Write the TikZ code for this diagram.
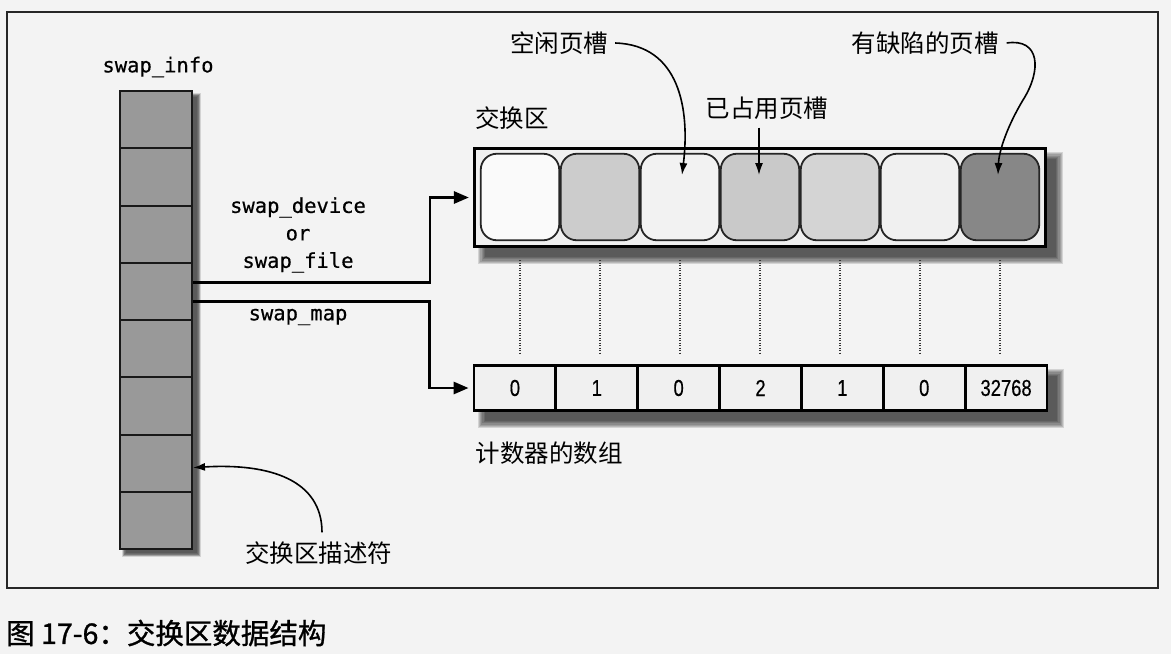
\documentclass[tikz,border=0pt]{standalone}
\usepackage{fontspec}
\setmonofont{DejaVu Sans Mono}[FakeBold=0.5]
\newfontfamily\cjk{Noto Sans CJK SC}
\newfontfamily\capfont{Noto Sans CJK SC}[FakeBold=1]
\newfontfamily\numfont{Liberation Sans}[FakeStretch=0.8,FakeBold=0.4]
\usetikzlibrary{arrows.meta,calc}
\definecolor{paper}{HTML}{F3F3F3}
\pgfdeclarelayer{paperlayer}
\pgfdeclarelayer{shadelayer}
\pgfsetlayers{paperlayer,shadelayer,main}
\newcommand\softshadow[3]{%
  \foreach \ii in {0,...,6}{%
    \fill[black, fill opacity=0.13] ($(#1)+(\ii*#3,\ii*#3)$) rectangle ($(#2)-(\ii*#3,\ii*#3)$);}}
\begin{document}
\begin{tikzpicture}[x=1pt,y=-1pt,
  sicell/.style={draw=black!90, line width=2pt, fill=black!40, minimum width=72pt, minimum height=57.25pt, inner sep=0pt},
  slotbox/.style={draw=black!85, line width=1.8pt, rounded corners=16pt, minimum width=78.5pt, minimum height=86.5pt, inner sep=0pt},
  cntcell/.style={draw=black, line width=2.8pt, fill=black!6, minimum width=81.86pt, minimum height=45.5pt, inner sep=0pt, font=\numfont\fontsize{23}{26}\selectfont},
  mono/.style={font=\ttfamily\fontsize{20.5}{27.5}\selectfont, inner sep=0pt, align=center},
  cjklabel/.style={font=\cjk\fontsize{24.5}{28}\selectfont, inner sep=0pt},
  conn/.style={line width=2.8pt, -{Triangle[length=15pt,width=12pt]}, shorten >=4pt},
  callout/.style={line width=1.6pt, -{Latex[length=12pt,width=8pt]}},
  dotline/.style={line width=1.6pt, black!80, dash pattern=on 1.3pt off 1.2pt}]
\useasboundingbox (0,0) rectangle (1171,654);
\begin{pgfonlayer}{paperlayer}
  \fill[paper] (0,0) rectangle (1171,654);
\end{pgfonlayer}
\draw[line width=2pt, black!85] (7,12) rectangle (1158,588);

% swap_info column
\foreach \i in {1,...,8}
  \node[sicell] (si\i) at (156,{91+57.25*(\i-0.5)}) {};
\node[mono] (lsi) at (158,67) {swap\_info};
\node[mono] (ldev) at (298,235) {swap\_device\\or\\swap\_file};
\node[mono] (lmap) at (298,317) {swap\_map};

% swap area
\node[draw=black, line width=3.2pt, fill=black!6, minimum width=571pt, minimum height=98pt, inner sep=0pt] (swapbox) at (760,197.5) {};
\foreach \i/\ff in {1/2,2/20,3/5,4/21,5/17,6/6,7/47}
  \node[slotbox, fill=black!\ff] (slot\i) at ({440+80*\i},197) {};

% counter array
\foreach \i/\v in {1/0,2/1,3/0,4/2,5/1,6/0,7/32768}
  \node[cntcell] (c\i) at ({474+81.86*(\i-0.5)},388) {\v};

% labels
\node[cjklabel] (lswap) at (512,118) {交换区};
\node[cjklabel] (lfree) at (559,43) {空闲页槽};
\node[cjklabel] (lused) at (767,108) {已占用页槽};
\node[cjklabel] (lbad) at (925,43) {有缺陷的页槽};
\node[cjklabel] (lcnt) at (549,453) {计数器的数组};
\node[cjklabel] (ldesc) at (318.5,553) {交换区描述符};
\node[anchor=west, inner sep=0pt, font=\capfont\fontsize{28.5}{32}\selectfont] (cap) at (6,633) {图 17-6：交换区数据结构};

% shadows
\coordinate (sbA) at ($(swapbox.north west)+(5,5)$);
\coordinate (sbB) at ($(swapbox.south east)+(16,16)$);
\coordinate (caA) at ($(c1.north west)+(5,5)$);
\coordinate (caB) at ($(c7.south east)+(16,16)$);
\coordinate (siA) at ($(si1.north west)+(3,3)$);
\coordinate (siB) at ($(si8.south east)+(8,7)$);
\begin{pgfonlayer}{shadelayer}
  \softshadow{sbA}{sbB}{1.2}
  \softshadow{caA}{caB}{1.2}
  \softshadow{siA}{siB}{0.6}
\end{pgfonlayer}

% dotted guides
\foreach \i in {1,...,7}
  \draw[dotline] (slot\i.south) ++(0,19) -- ++(0,94);

% connectors
\coordinate (jA) at ($(swapbox.west)+(-43,0)$);
\coordinate (jB) at ($(c1.west)+(-43,0)$);
\draw[conn] ([yshift=8.5pt]si4.east) -| (jA) -- (swapbox.west);
\draw[conn] ([yshift=-10.5pt]si4.east) -| (jB) -- (c1.west);

% callouts
\draw[callout] ([xshift=7pt]lfree.east) .. controls (680,45) and (690,110) .. ([xshift=2pt,yshift=22pt]slot3.center);
\draw[callout] ([xshift=-8pt,yshift=-8pt]lused.south) -- ([xshift=-1pt,yshift=22pt]slot4.center);
\draw[callout] ([xshift=8pt]lbad.east) .. controls (1040,38) and (1042,70) .. (1023,100) .. controls (1008,125) and (999,150) .. ([xshift=-2pt,yshift=22pt]slot7.center);
\draw[callout] ([xshift=3.5pt,yshift=9pt]ldesc.north) .. controls (322,480) and (270,463) .. ([yshift=-4.5pt]si7.east);
\end{tikzpicture}
\end{document}
